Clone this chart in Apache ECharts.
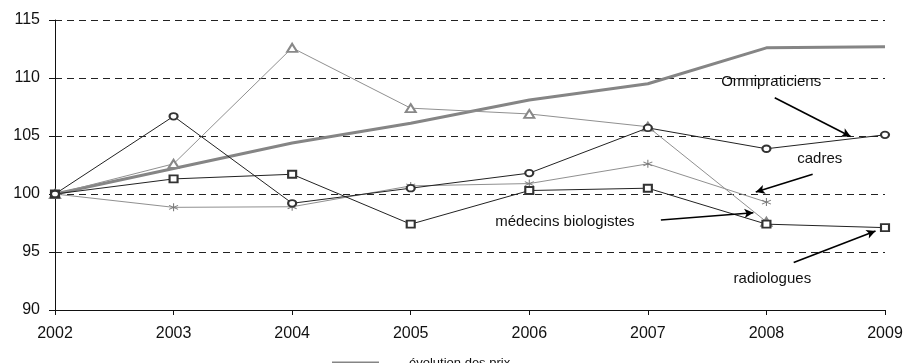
<!DOCTYPE html>
<html>
<head>
<meta charset="utf-8">
<script src="https://cdn.jsdelivr.net/npm/echarts@6/dist/echarts.min.js"></script>
<style>
html,body{margin:0;padding:0;background:#fff;}
#main{width:906px;height:363px;}
</style>
</head>
<body>
<div id="main"></div>
<script>
var years = [2002, 2003, 2004, 2005, 2006, 2007, 2008, 2009];
var prix = [100, 102.2, 104.4, 106.1, 108.1, 109.5, 112.6, 112.7];
var omnipraticiens = [100, 106.7, 99.2, 100.5, 101.8, 105.7, 103.9, 105.1];
var biologistes = [100, 102.6, 112.6, 107.4, 106.9, 105.8, 97.6, null];
var radiologues = [100, 101.3, 101.7, 97.4, 100.3, 100.5, 97.4, 97.1];
var cadres = [100, 98.85, 98.9, 100.7, 100.9, 102.6, 99.3, null];

// annotation texts and arrows, in data space [year, value]
var noteNames = ['Omnipraticiens', 'cadres', 'médecins biologistes', 'radiologues'];
var notePos = [[2008.04, 109.7], [2008.45, 103.0], [2006.30, 97.6], [2008.05, 92.7]];
var arrowFrom = [[2008.07, 108.3], [2008.39, 101.7], [2007.11, 97.76], [2008.23, 94.1]];
var arrowTo = [[2008.71, 104.95], [2007.91, 100.17], [2007.89, 98.39], [2008.92, 96.81]];

function pairs(vals){
    var out = [];
    for(var i=0;i<years.length;i++){
        if(vals[i] != null) out.push([years[i], vals[i]]);
    }
    return out;
}

var markPts = [];
var markLns = [];
for(var i=0;i<noteNames.length;i++){
    markPts.push({name: noteNames[i], coord: notePos[i]});
    markLns.push([{coord: arrowFrom[i]}, {coord: arrowTo[i]}]);
}

var myChart = echarts.init(document.getElementById('main'));
var option = {
    animation: false,
    backgroundColor: '#fff',
    textStyle: {fontFamily: 'Liberation Sans, Arial, sans-serif'},
    grid: {left: 55, right: 21, top: 20, bottom: 53},
    legend: {
        data: [{name: 'évolution des prix', icon: 'rect'}],
        left: 327,
        top: 352,
        itemWidth: 47,
        itemHeight: 4,
        textStyle: {fontSize: 13, color: '#111', padding: [3, 0, 0, 25]}
    },
    xAxis: {
        type: 'value',
        min: 2002,
        max: 2009,
        interval: 1,
        axisLine: {lineStyle: {color: '#111', width: 1}},
        axisTick: {show: true, length: 5, lineStyle: {color: '#111'}},
        axisLabel: {
            fontSize: 16, color: '#111', margin: 16,
            formatter: function(v){ return String(v); }
        },
        splitLine: {show: false}
    },
    yAxis: {
        type: 'value',
        min: 90,
        max: 115,
        interval: 5,
        axisLine: {show: true, lineStyle: {color: '#111', width: 1}},
        axisTick: {show: true, length: 6, lineStyle: {color: '#111'}},
        axisLabel: {fontSize: 16, color: '#111', margin: 15},
        splitLine: {show: true, lineStyle: {color: '#222', type: [7, 5], width: 1}}
    },
    series: [
        {
            name: 'évolution des prix',
            type: 'line',
            data: pairs(prix),
            showSymbol: false,
            symbol: 'none',
            lineStyle: {color: '#858585', width: 3},
            itemStyle: {color: '#858585'},
            z: 2
        },
        {
            name: 'médecins biologistes',
            type: 'line',
            data: pairs(biologistes),
            symbol: 'emptyTriangle',
            symbolSize: [10, 8],
            lineStyle: {color: '#909090', width: 1},
            itemStyle: {color: '#888', borderWidth: 0.8},
            z: 3
        },
        {
            name: 'cadres',
            type: 'line',
            data: pairs(cadres),
            symbol: 'path://M5,0L5,10M0.7,2.5L9.3,7.5M0.7,7.5L9.3,2.5',
            symbolSize: [9, 8],
            lineStyle: {color: '#909090', width: 1},
            itemStyle: {color: 'rgba(0,0,0,0)', borderColor: '#7a7a7a', borderWidth: 1},
            z: 3
        },
        {
            name: 'radiologues',
            type: 'line',
            data: pairs(radiologues),
            symbol: 'emptyRect',
            symbolSize: [8, 7],
            lineStyle: {color: '#222', width: 1},
            itemStyle: {color: '#333', borderWidth: 0.8},
            z: 4
        },
        {
            name: 'Omnipraticiens',
            type: 'line',
            data: pairs(omnipraticiens),
            symbol: 'emptyCircle',
            symbolSize: [8, 6.5],
            lineStyle: {color: '#222', width: 1},
            itemStyle: {color: '#333', borderWidth: 0.8},
            z: 4
        },
        {
            name: 'annotations',
            type: 'line',
            data: [],
            markPoint: {
                symbol: 'circle',
                symbolSize: 1,
                itemStyle: {color: 'rgba(0,0,0,0)'},
                label: {
                    show: true,
                    position: 'inside',
                    formatter: '{b}',
                    fontSize: 15,
                    color: '#111'
                },
                data: markPts
            },
            markLine: {
                silent: true,
                symbol: ['none', 'arrow'],
                symbolSize: [7, 9],
                label: {show: false},
                lineStyle: {color: '#000', width: 1.6, type: 'solid'},
                data: markLns
            },
            z: 5
        }
    ]
};
myChart.setOption(option);
</script>
</body>
</html>
